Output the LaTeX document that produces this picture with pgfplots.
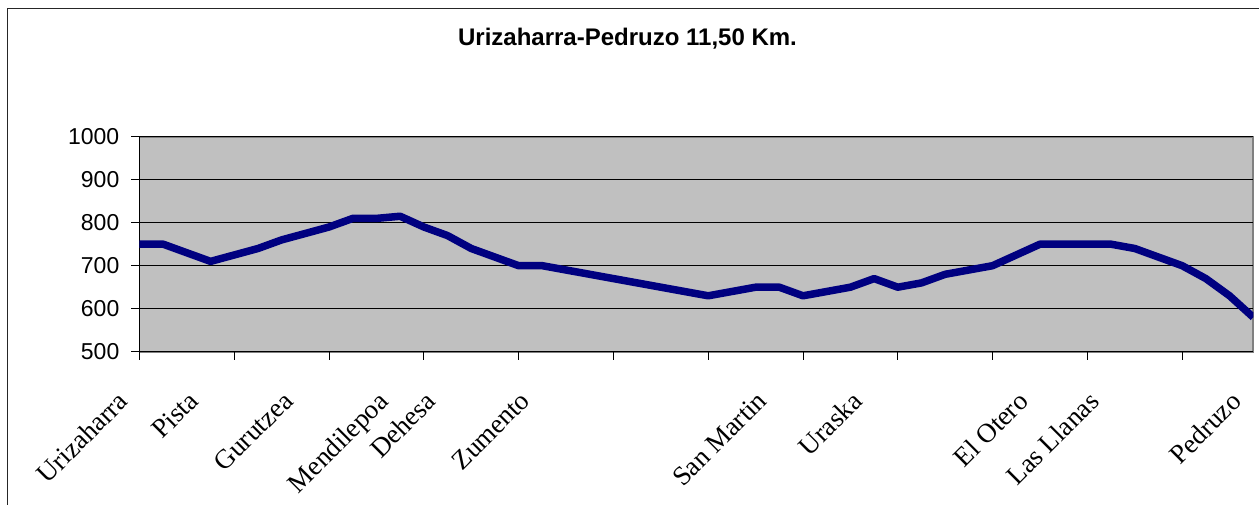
\documentclass[border=0pt]{standalone}
\usepackage{fontspec}
\setmainfont{Liberation Serif}
\newfontfamily\arial{Liberation Sans}
\usepackage{pgfplots}
\pgfplotsset{compat=1.18}
\definecolor{plotbg}{HTML}{C0C0C0}
\definecolor{navyline}{HTML}{000080}
\definecolor{bordergray}{HTML}{808080}
\begin{document}
\begin{tikzpicture}[x=1pt,y=1pt]
\useasboundingbox (0,0) rectangle (1259,505);
\draw[line width=1.4pt, black!85] (7.7,-2) -- (7.7,496.7) -- (1262,496.7);
\node[font=\arial\bfseries\fontsize{24}{24}\selectfont, anchor=base] at (627.5,459) {Urizaharra-Pedruzo 11,50 Km.};
\begin{axis}[
  at={(139.5pt,153.3pt)}, anchor=south west,
  scale only axis, width=1113.8pt, height=215pt,
  xmin=0, xmax=47, ymin=500, ymax=1000,
  xtick={0,4,...,44}, xticklabels={},
  ytick={500,600,...,1000},
  ymajorgrids, grid style={black, line width=0.9pt},
  tick align=outside, xtick pos=bottom, ytick pos=left,
  major tick length=8pt,
  tick style={black, line width=0.9pt},
  axis x line*=bottom, axis y line*=left,
  axis line style={black, line width=0.9pt, -},
  axis background/.style={fill=plotbg, draw=bordergray, line width=1.7pt},
  /pgf/number format/assume math mode=true,
  /pgf/number format/1000 sep={},
  yticklabel style={font=\arial\fontsize{23}{23}\selectfont, inner sep=0pt, xshift=-12pt},
  extra x ticks={0,3,7,11,13,17,27,31,38,41,47},
  extra x tick labels={Urizaharra,Pista,Gurutzea,Mendilepoa,Dehesa,Zumento,San Martin,Uraska,El Otero,Las Llanas,Pedruzo},
  extra x tick style={major tick length=0pt, tick style={draw=none},
    xticklabel style={font=\fontsize{27}{27}\selectfont, inner sep=0pt, xshift=-23.5pt, yshift=-38pt, rotate=45, anchor=north east}},
]
\addplot[navyline, line width=7.5pt, line join=round] coordinates {
(0,750) (1,750) (2,730) (3,710) (4,725) (5,740) (6,760) (7,775) (8,790) (9,810)
(10,810) (11,815) (12,790) (13,770) (14,740) (15,720) (16,700) (17,700) (18,690) (19,680)
(20,670) (21,660) (22,650) (23,640) (24,630) (25,640) (26,650) (27,650) (28,630) (29,640)
(30,650) (31,670) (32,650) (33,660) (34,680) (35,690) (36,700) (37,725) (38,750) (39,750)
(40,750) (41,750) (42,740) (43,720) (44,700) (45,670) (46,630) (47,580)
};
\end{axis}
\end{tikzpicture}
\end{document}
